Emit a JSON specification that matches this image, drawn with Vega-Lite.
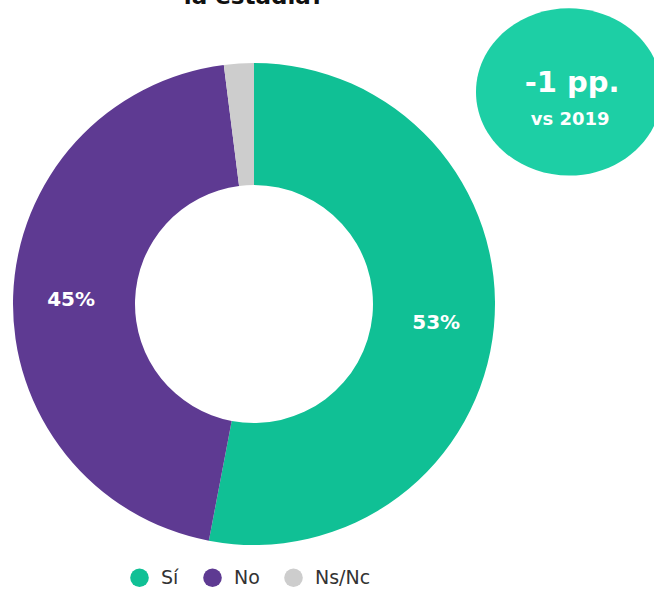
{
  "$schema": "https://vega.github.io/schema/vega-lite/v6.json",
  "autosize": "none",
  "width": 482,
  "height": 482,
  "padding": {"left": 13, "top": 63, "right": 159, "bottom": 44},
  "background": "white",
  "config": {"view": {"stroke": null}, "font": "DejaVu Sans"},
  "layer": [
    {
      "data": {"values": [
        {"respuesta": "Sí", "pct": 53, "orden": 1, "etiqueta": "53%"},
        {"respuesta": "No", "pct": 45, "orden": 2, "etiqueta": "45%"},
        {"respuesta": "Ns/Nc", "pct": 2, "orden": 3, "etiqueta": ""}
      ]},
      "layer": [
        {
          "mark": {"type": "arc", "innerRadius": 119, "outerRadius": 241, "strokeWidth": 0},
          "encoding": {
            "theta": {"field": "pct", "type": "quantitative", "stack": true},
            "order": {"field": "orden", "type": "quantitative"},
            "color": {
              "field": "respuesta", "type": "nominal",
              "scale": {"domain": ["Sí", "No", "Ns/Nc"], "range": ["#10C095", "#5E3A92", "#CDCDCD"]},
              "legend": {
                "orient": "none", "legendX": 117, "legendY": 505, "padding": 0,
                "direction": "horizontal", "title": null,
                "symbolType": "circle", "symbolSize": 346, "symbolStrokeWidth": 0,
                "labelFontSize": 19, "labelFont": "DejaVu Sans", "labelColor": "#333333",
                "columnPadding": 24, "labelOffset": 12
              }
            }
          }
        },
        {
          "mark": {"type": "text", "radius": 183, "dy": 2, "fontSize": 20, "fontWeight": "bold", "fill": "white", "font": "DejaVu Sans"},
          "encoding": {
            "theta": {"field": "pct", "type": "quantitative", "stack": true},
            "order": {"field": "orden", "type": "quantitative"},
            "detail": {"field": "respuesta", "type": "nominal"},
            "text": {"field": "etiqueta", "type": "nominal"}
          }
        }
      ]
    },
    {
      "data": {"values": [{"x": 115.35, "y": 94}]},
      "mark": {"type": "point", "shape": "M -1 0 A 1 0.9 0 1 1 1 0 A 1 0.9 0 1 1 -1 0 Z", "size": 34596, "filled": true, "fill": "#1DCFA5", "opacity": 1, "strokeWidth": 0},
      "encoding": {
        "x": {"field": "x", "type": "quantitative", "scale": {"domain": [0, 100], "nice": false, "zero": false}, "axis": null},
        "y": {"field": "y", "type": "quantitative", "scale": {"domain": [0, 100], "nice": false, "zero": false}, "axis": null}
      }
    },
    {
      "data": {"values": [{"x": 116, "y": 94, "texto": "-1 pp."}]},
      "mark": {"type": "text", "fontSize": 29, "fontWeight": "bold", "fill": "white", "font": "DejaVu Sans", "baseline": "alphabetic", "align": "center"},
      "encoding": {
        "x": {"field": "x", "type": "quantitative", "axis": null},
        "y": {"field": "y", "type": "quantitative", "axis": null},
        "text": {"field": "texto", "type": "nominal"}
      }
    },
    {
      "data": {"values": [{"x": 115.6, "y": 87.1, "texto": "vs 2019"}]},
      "mark": {"type": "text", "fontSize": 18, "fontWeight": "bold", "fill": "white", "font": "DejaVu Sans", "baseline": "alphabetic", "align": "center"},
      "encoding": {
        "x": {"field": "x", "type": "quantitative", "axis": null},
        "y": {"field": "y", "type": "quantitative", "axis": null},
        "text": {"field": "texto", "type": "nominal"}
      }
    },
    {
      "data": {"values": [{"x": 50, "y": 112.3, "texto": "la estadía?"}]},
      "mark": {"type": "text", "fontSize": 23, "fontWeight": "bold", "fill": "#111111", "font": "DejaVu Sans", "baseline": "alphabetic", "align": "center"},
      "encoding": {
        "x": {"field": "x", "type": "quantitative", "axis": null},
        "y": {"field": "y", "type": "quantitative", "axis": null},
        "text": {"field": "texto", "type": "nominal"}
      }
    }
  ]
}
